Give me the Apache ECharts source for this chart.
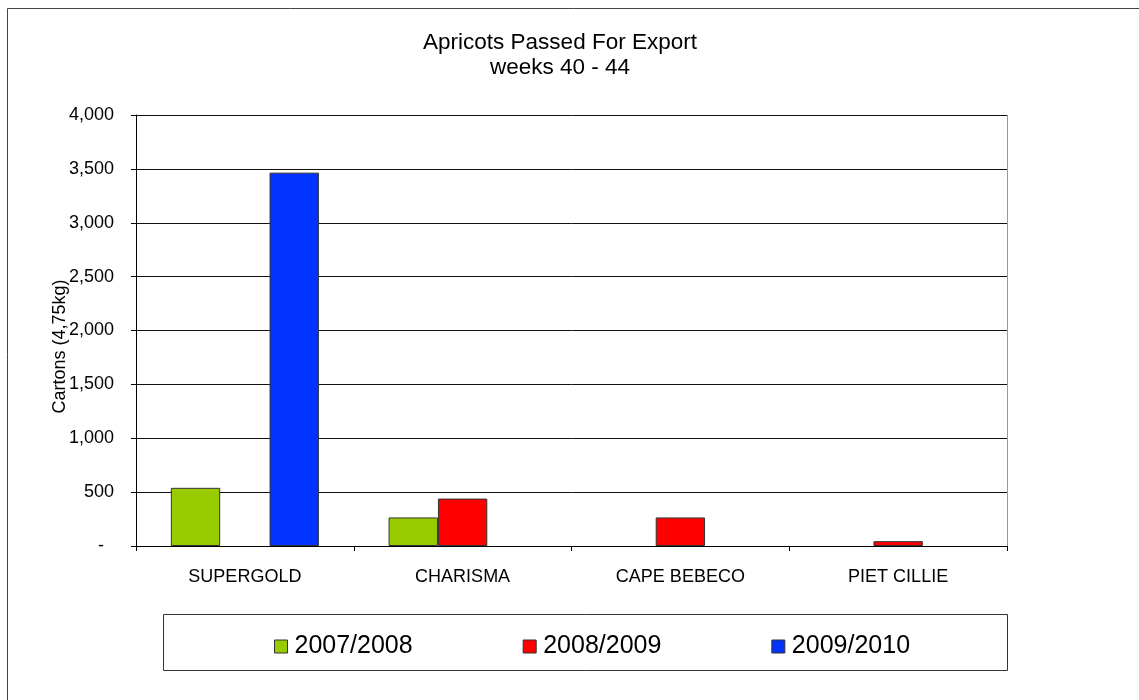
<!DOCTYPE html>
<html>
<head>
<meta charset="utf-8">
<script src="https://cdn.jsdelivr.net/npm/echarts@6/dist/echarts.min.js"></script>
<style>
html,body{margin:0;padding:0;background:#fff;}
#chart{width:1139px;height:700px;}
</style>
</head>
<body>
<div id="chart"></div>
<script>
var categories = ['SUPERGOLD', 'CHARISMA', 'CAPE BEBECO', 'PIET CILLIE'];
var seriesNames = ['2007/2008', '2008/2009', '2009/2010'];
var values2007 = [540, 265, 0, 0];
var values2008 = [0, 440, 265, 45];
var values2009 = [3465, 0, 0, 0];
var yTicks = [0, 500, 1000, 1500, 2000, 2500, 3000, 3500, 4000];
var colors = ['#99CC00', '#FF0000', '#0033FF'];

var font = '"Liberation Sans", Arial, sans-serif';
var chart = echarts.init(document.getElementById('chart'), null, {renderer: 'canvas'});

function fmt(v) {
  if (v === 0) return '-  ';
  return String(v).replace(/\B(?=(\d{3})+(?!\d))/g, ',');
}

function bar(name, data, color) {
  return {
    name: name,
    type: 'bar',
    data: data.map(function (v) { return v === 0 ? null : v; }),
    barGap: '0%',
    barCategoryGap: '32%',
    itemStyle: {color: color, borderColor: '#333', borderWidth: 1},
    emphasis: {disabled: true}
  };
}

chart.setOption({
  animation: false,
  backgroundColor: '#fff',
  title: {
    text: 'Apricots Passed For Export\nweeks 40 - 44',
    left: 560,
    top: 30,
    padding: 0,
    textAlign: 'center',
    textStyle: {fontFamily: font, fontSize: 22.5, fontWeight: 'normal', color: '#000', lineHeight: 25}
  },
  legend: {
    left: 274,
    top: 634,
    padding: 0,
    itemWidth: 13,
    itemHeight: 13,
    itemGap: 110,
    icon: 'rect',
    data: seriesNames,
    itemStyle: {borderColor: '#333', borderWidth: 1},
    textStyle: {fontFamily: font, fontSize: 25, color: '#000', padding: [0, 0, 0, 2]}
  },
  grid: {left: 136, right: 132, top: 115, bottom: 154, containLabel: false},
  xAxis: {
    type: 'category',
    data: categories,
    axisLine: {lineStyle: {color: '#000', width: 1}},
    axisTick: {show: true, length: 5, inside: false, lineStyle: {color: '#000'}},
    axisLabel: {fontFamily: font, fontSize: 18, color: '#000', margin: 22}
  },
  yAxis: {
    type: 'value',
    min: yTicks[0],
    max: yTicks[yTicks.length - 1],
    interval: yTicks[1] - yTicks[0],
    name: 'Cartons (4,75kg)',
    nameLocation: 'middle',
    nameGap: 67,
    nameMoveOverlap: false,
    nameTextStyle: {fontFamily: font, fontSize: 18, color: '#000', padding: [0, 32, 0, 0]},
    axisLine: {show: true, lineStyle: {color: '#000', width: 1}},
    axisTick: {show: true, length: 5, lineStyle: {color: '#000'}},
    axisLabel: {fontFamily: font, fontSize: 18, color: '#000', margin: 22, formatter: fmt},
    splitLine: {show: true, lineStyle: {color: '#111', width: 1}}
  },
  graphic: [
    {type: 'rect', shape: {x: 7.5, y: 8.5, width: 1300, height: 900}, style: {fill: 'none', stroke: '#444', lineWidth: 1}, z: -1},
    {type: 'rect', shape: {x: 163.5, y: 614.5, width: 844, height: 56}, style: {fill: 'none', stroke: '#333', lineWidth: 1}, z: -1},
    {type: 'line', shape: {x1: 1007.5, y1: 115, x2: 1007.5, y2: 546}, style: {stroke: '#999', lineWidth: 1}, z: 5}
  ],
  series: [
    bar(seriesNames[0], values2007, colors[0]),
    bar(seriesNames[1], values2008, colors[1]),
    bar(seriesNames[2], values2009, colors[2])
  ]
});
</script>
</body>
</html>
